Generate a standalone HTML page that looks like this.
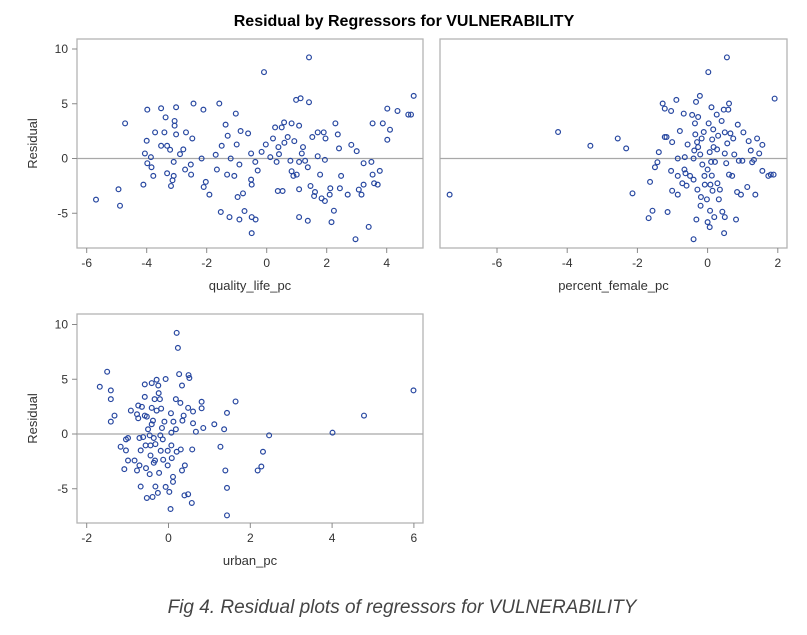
<!DOCTYPE html>
<html><head><meta charset="utf-8">
<style>
html,body{margin:0;padding:0;background:#fff;}
svg{display:block;}
text{font-family:"Liberation Sans",sans-serif;}
</style></head>
<body>
<svg id="chart" width="807" height="635" viewBox="0 0 807 635" xmlns="http://www.w3.org/2000/svg">
<text x="404" y="26" text-anchor="middle" font-size="16" font-weight="bold" fill="#000">Residual by Regressors for VULNERABILITY</text>
<text x="402" y="613" text-anchor="middle" font-size="19" font-style="italic" fill="#444" style="font-family:'Liberation Sans',sans-serif">Fig 4. Residual plots of regressors for VULNERABILITY</text>
</svg>
<script>
// Panel 1: quality_life_pc
const qlX = [-5.69,-4.94,-4.89,-4.72,-4.11,-4.06,-4.0,-3.98,-3.98,-3.86,-3.84,-3.78,-3.72,-3.52,-3.52,-3.41,-3.37,-3.32,-3.32,-3.22,-3.19,-3.14,-3.1,-3.1,-3.07,-3.07,-3.02,-3.02,-2.89,-2.78,-2.72,-2.69,-2.53,-2.52,-2.48,-2.44,-2.17,-2.11,-2.1,-2.03,-1.91,-1.7,-1.66,-1.58,-1.53,-1.5,-1.37,-1.32,-1.3,-1.24,-1.2,-1.08,-1.03,-1.0,-0.97,-0.91,-0.91,-0.87,-0.79,-0.74,-0.62,-0.52,-0.52,-0.5,-0.5,-0.5,-0.38,-0.37,-0.3,-0.17,-0.09,-0.03,0.12,0.21,0.28,0.33,0.37,0.39,0.41,0.5,0.53,0.58,0.59,0.7,0.79,0.83,0.83,0.89,0.92,0.98,1.0,1.08,1.08,1.08,1.08,1.13,1.17,1.21,1.28,1.37,1.37,1.41,1.41,1.46,1.52,1.58,1.61,1.7,1.7,1.78,1.83,1.9,1.94,1.94,1.96,2.1,2.12,2.16,2.24,2.29,2.37,2.41,2.44,2.48,2.7,2.82,2.96,3.0,3.07,3.16,3.23,3.23,3.4,3.49,3.53,3.53,3.58,3.7,3.77,3.87,4.02,4.02,4.11,4.36,4.72,4.81,4.9];
const qlY = [-3.76,-2.81,-4.31,3.21,-2.39,0.46,1.62,4.46,-0.43,0.12,-0.8,-1.59,2.39,4.59,1.16,2.39,3.76,1.16,-1.35,0.8,-2.51,-1.99,-0.31,-1.59,3.43,3.0,4.68,2.2,0.4,0.83,-1.01,2.39,-0.55,-1.47,1.83,5.02,0,4.46,-2.6,-2.14,-3.3,0.34,-1.01,5.02,-4.89,1.16,3.09,-1.47,2.08,-5.35,0,-1.59,4.1,1.28,-3.52,-0.55,-5.57,2.51,-3.18,-4.8,2.29,0.46,-1.93,-2.39,-5.35,-6.82,-0.31,-5.57,-1.1,0.61,7.89,1.28,0.12,1.83,2.84,-0.31,-2.97,1.04,0.4,2.84,-2.97,3.3,1.44,1.96,-0.21,-1.16,3.21,-1.59,1.59,5.35,-1.47,3.0,-0.31,-2.81,-5.35,5.5,0.46,1.04,-0.21,-0.8,-5.69,9.24,5.14,-2.51,1.96,-3.43,-3.06,2.39,0.21,-1.47,-3.64,2.39,-3.88,-0.12,1.83,-3.3,-2.72,-5.81,-4.77,3.21,2.2,0.92,-2.72,-1.59,-3.3,1.25,-7.37,0.67,-2.84,-3.3,-0.43,-2.39,-6.24,-0.31,3.21,-1.47,-2.26,-2.39,-1.13,3.21,4.56,1.71,2.63,4.34,4.01,4.01,5.72];
// Panel 2: percent_female_pc
const pfX = [-7.35,-4.26,-3.34,-2.56,-2.32,-2.14,-1.68,-1.64,-1.57,-1.5,-1.43,-1.39,-1.28,-1.22,-1.22,-1.17,-1.14,-1.04,-1.04,-1.01,-1.01,-0.89,-0.85,-0.85,-0.85,-0.79,-0.72,-0.68,-0.66,-0.65,-0.63,-0.6,-0.57,-0.5,-0.44,-0.4,-0.4,-0.4,-0.38,-0.36,-0.35,-0.33,-0.32,-0.3,-0.29,-0.27,-0.27,-0.22,-0.21,-0.2,-0.19,-0.17,-0.15,-0.11,-0.09,-0.08,-0.02,0,0,0.02,0.03,0.06,0.06,0.07,0.08,0.1,0.11,0.12,0.13,0.14,0.16,0.17,0.19,0.21,0.26,0.27,0.28,0.3,0.32,0.35,0.4,0.42,0.46,0.47,0.49,0.49,0.49,0.53,0.55,0.56,0.59,0.61,0.61,0.65,0.7,0.73,0.76,0.81,0.84,0.86,0.89,0.95,0.99,1.02,1.13,1.17,1.23,1.27,1.32,1.36,1.41,1.47,1.56,1.56,1.73,1.8,1.88,1.91];
const pfY = [-3.3,2.42,1.16,1.83,0.92,-3.18,-5.44,-2.14,-4.77,-0.8,-0.34,0.58,5.02,4.56,1.96,1.96,-4.89,4.34,-1.13,1.5,-2.94,5.35,0,-1.59,-3.3,2.51,-2.26,4.1,-1.01,0.12,-1.35,-2.48,1.28,-1.59,3.98,0,-1.93,-7.37,0.73,3.21,2.2,5.17,-5.57,1.5,-2.84,3.79,1.04,5.72,0.37,-4.31,-3.52,1.83,-0.55,2.42,-1.59,-2.39,-3.73,-1.01,-5.81,7.89,3.21,0.58,-6.27,-4.77,-2.39,-0.31,4.68,-1.56,1.74,-2.94,2.66,1.04,-5.35,-0.31,4.01,0.83,-2.26,2.08,-3.73,-2.84,3.43,-4.86,4.46,-6.82,0.46,-5.35,2.39,-0.43,9.24,1.38,4.46,5.02,-1.47,2.29,-1.59,1.83,0.37,-5.57,-3.06,3.09,-0.21,-3.3,-0.21,2.39,-2.6,1.59,0.73,-0.34,-0.12,-3.3,1.83,0.46,-1.13,1.25,-1.59,-1.47,-1.47,5.47];
// Panel 3: urban_pc
const ubX = [-1.68,-1.5,-1.41,-1.41,-1.41,-1.32,-1.17,-1.08,-1.04,-1.04,-0.99,-0.99,-0.92,-0.83,-0.77,-0.77,-0.74,-0.74,-0.71,-0.71,-0.68,-0.68,-0.65,-0.62,-0.58,-0.58,-0.58,-0.56,-0.55,-0.53,-0.53,-0.5,-0.46,-0.46,-0.44,-0.44,-0.41,-0.41,-0.41,-0.39,-0.38,-0.36,-0.36,-0.34,-0.33,-0.32,-0.32,-0.29,-0.29,-0.26,-0.25,-0.24,-0.23,-0.21,-0.2,-0.19,-0.18,-0.16,-0.14,-0.13,-0.1,-0.07,-0.07,-0.02,-0.02,0.02,0.05,0.06,0.07,0.07,0.08,0.11,0.11,0.12,0.18,0.18,0.2,0.2,0.23,0.26,0.29,0.3,0.33,0.33,0.34,0.37,0.39,0.4,0.48,0.48,0.49,0.51,0.57,0.58,0.6,0.6,0.67,0.81,0.81,0.85,1.12,1.27,1.36,1.39,1.43,1.43,1.43,1.64,2.18,2.27,2.31,2.46,4.01,4.78,5.99];
const ubY = [4.31,5.69,3.98,3.18,1.13,1.68,-1.16,-3.21,-1.5,-0.49,-0.37,-2.42,2.14,-2.42,-3.33,1.8,2.6,1.44,-0.37,-2.87,-1.5,-4.8,2.48,-0.28,3.39,4.53,1.68,-1.04,-3.12,1.59,-5.84,0.43,-3.67,-0.12,-1.04,-1.96,2.39,4.65,0.89,-5.75,1.22,-0.37,-2.63,3.18,-2.42,-4.8,-0.92,2.14,4.95,-5.38,4.43,3.73,-3.55,3.18,-0.12,-1.53,2.32,0.55,-0.49,-2.35,1.13,5.02,-4.83,-1.53,-2.87,-5.29,-6.85,1.9,-1.04,0.12,-2.2,-3.91,-4.37,1.13,3.18,0.43,9.24,-1.62,7.86,5.47,2.84,-1.41,-3.33,4.43,1.22,1.68,-5.6,-2.87,-5.5,2.39,5.38,5.11,-6.3,-1.41,0.98,2.05,0.21,2.94,2.35,0.55,0.89,-1.16,0.43,-3.33,1.93,-4.92,-7.43,2.97,-3.33,-2.97,-1.62,-0.12,0.12,1.68,3.98];
const yTicks = [-5, 0, 5, 10];
const qlTicks = [-6, -4, -2, 0, 2, 4];
const pfTicks = [-6, -4, -2, 0, 2];
const ubTicks = [-2, 0, 2, 4, 6];

const NS = "http://www.w3.org/2000/svg";
const svg = document.getElementById('chart');
function mk(tag, attrs, parent) {
  const e = document.createElementNS(NS, tag);
  for (const k in attrs) e.setAttribute(k, attrs[k]);
  (parent || svg).appendChild(e);
  return e;
}
function panel(cfg) {
  const g = mk('g', {});
  
  
  const sx = v => cfg.x0 + (v - cfg.xmin) * cfg.xs;
  const sy = v => cfg.yZero - v * cfg.ys;
  const fr = mk('rect', {x: cfg.left, y: cfg.top, width: cfg.right - cfg.left, height: cfg.bottom - cfg.top, fill: 'none', stroke: '#b4b4b4', 'stroke-width': 1.3}, g);
  
  
  const zl = mk('line', {x1: cfg.left, x2: cfg.right, y1: sy(0), y2: sy(0), stroke: '#a8a8a8', 'stroke-width': 1.2}, g);
  
  
  cfg.xt.forEach(t => {
    const x = sx(t);
    const tl = mk('line', {x1: x, x2: x, y1: cfg.bottom, y2: cfg.bottom + 5, stroke: '#888', 'stroke-width': 1}, g);
    
    
    const tx = mk('text', {x: x, y: cfg.bottom + 19, 'text-anchor': 'middle', 'font-size': 12, fill: '#333'}, g);
    tx.textContent = t;
    
    
  });
  if (cfg.yLabels) {
    yTicks.forEach(t => {
      const y = sy(t);
      const tl = mk('line', {x1: cfg.left - 5, x2: cfg.left, y1: y, y2: y, stroke: '#888', 'stroke-width': 1}, g);
      
      
      const tx = mk('text', {x: cfg.left - 9, y: y + 4, 'text-anchor': 'end', 'font-size': 12, fill: '#333'}, g);
      tx.textContent = t;
      
      
    });
    const yt = mk('text', {x: 0, y: 0, 'text-anchor': 'middle', 'font-size': 13, fill: '#333', transform: 'translate(37,' + ((cfg.top + cfg.bottom) / 2) + ') rotate(-90)'}, g);
    yt.textContent = 'Residual';
    
    
  }
  const xt = mk('text', {x: (cfg.left + cfg.right) / 2, y: cfg.bottom + 42, 'text-anchor': 'middle', 'font-size': 13, fill: '#333'}, g);
  xt.textContent = cfg.xTitle;
  
  
  cfg.xs_data.forEach((v, i) => {
    const c = mk('circle', {cx: sx(v), cy: sy(cfg.ys_data[i]), r: 2.4, fill: 'none', stroke: '#2747a0', 'stroke-width': 1.2}, g);
    
    
  });
}
panel({name: 'quality-life-panel', left: 77, right: 423, top: 39, bottom: 248, x0: 86.7, xmin: -6, xs: 30.0, yZero: 158.5, ys: 10.95, xt: qlTicks, yLabels: true, xTitle: 'quality_life_pc', xs_data: qlX, ys_data: qlY});
panel({name: 'percent-female-panel', left: 440, right: 787, top: 39, bottom: 248, x0: 497, xmin: -6, xs: 35.1, yZero: 158.5, ys: 10.95, xt: pfTicks, yLabels: false, xTitle: 'percent_female_pc', xs_data: pfX, ys_data: pfY});
panel({name: 'urban-panel', left: 77, right: 423, top: 314, bottom: 523, x0: 86.7, xmin: -2, xs: 40.9, yZero: 434, ys: 10.95, xt: ubTicks, yLabels: true, xTitle: 'urban_pc', xs_data: ubX, ys_data: ubY});
</script>
</body></html>
